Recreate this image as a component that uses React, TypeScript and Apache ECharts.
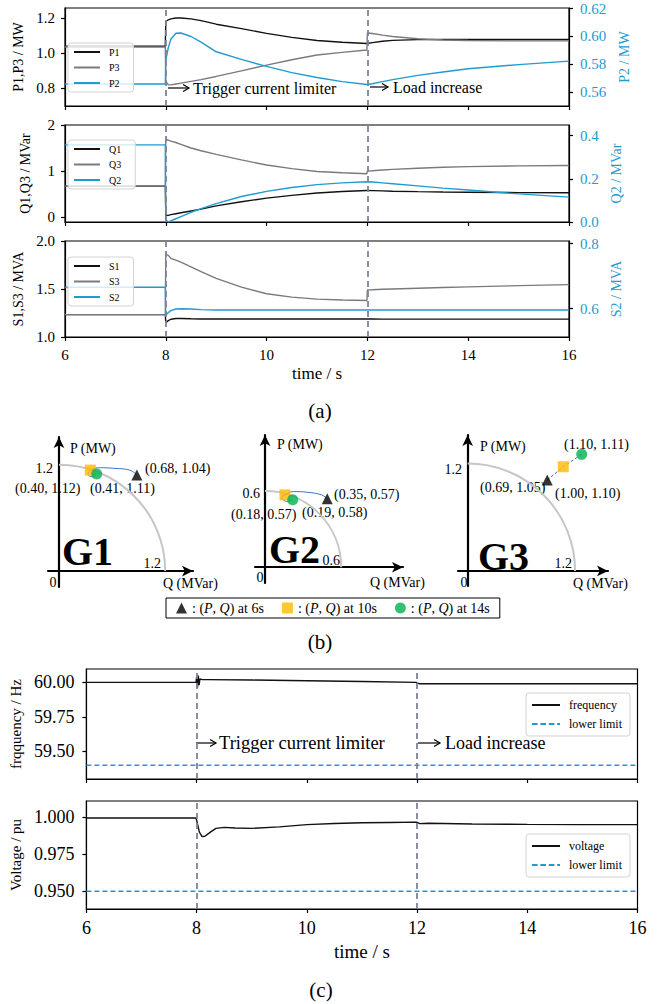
import React, { useEffect, useRef } from "react";
import * as echarts from "echarts";

// ---------- data: panel (a) ----------
const timeA = [6, 7.99, 8.0, 8.05, 8.1, 8.2, 8.3, 8.5, 8.7, 9, 9.5, 10, 10.5, 11, 11.5, 11.99, 12.0, 12.1, 12.3, 12.5, 13, 13.5, 14, 15, 16];
const P1 = [1.04, 1.04, 1.18, 1.19, 1.195, 1.2, 1.2, 1.195, 1.185, 1.165, 1.14, 1.113, 1.09, 1.072, 1.062, 1.055, 1.055, 1.06, 1.068, 1.073, 1.077, 1.078, 1.078, 1.078, 1.078];
const P3 = [1.035, 1.035, 0.84, 0.82, 0.82, 0.825, 0.83, 0.84, 0.85, 0.868, 0.9, 0.932, 0.963, 0.99, 1.005, 1.018, 1.115, 1.112, 1.103, 1.095, 1.082, 1.075, 1.072, 1.07, 1.07];
const P2 = [0.5658, 0.5658, 0.583, 0.592, 0.598, 0.6023, 0.6025, 0.6, 0.596, 0.589, 0.5835, 0.5785, 0.574, 0.5705, 0.5675, 0.5655, 0.5652, 0.566, 0.5675, 0.569, 0.572, 0.5745, 0.5768, 0.5798, 0.5823];
const Q1 = [0.67, 0.67, 0.03, 0.035, 0.05, 0.07, 0.09, 0.13, 0.17, 0.24, 0.33, 0.41, 0.47, 0.52, 0.555, 0.575, 0.575, 0.572, 0.566, 0.56, 0.55, 0.543, 0.538, 0.53, 0.525];
const Q3 = [0.67, 0.67, 1.69, 1.67, 1.65, 1.62, 1.58, 1.5, 1.44, 1.36, 1.24, 1.13, 1.05, 0.99, 0.96, 0.94, 1.0, 1.005, 1.02, 1.035, 1.06, 1.08, 1.095, 1.11, 1.12];
const Q2 = [0.357, 0.357, 0.01, 0.0, 0.005, 0.015, 0.025, 0.045, 0.062, 0.085, 0.118, 0.142, 0.16, 0.173, 0.181, 0.186, 0.186, 0.185, 0.181, 0.177, 0.167, 0.157, 0.148, 0.13, 0.115];
const S1 = [1.233, 1.233, 1.15, 1.17, 1.185, 1.192, 1.193, 1.19, 1.188, 1.187, 1.187, 1.187, 1.187, 1.187, 1.187, 1.187, 1.187, 1.187, 1.186, 1.186, 1.186, 1.186, 1.186, 1.186, 1.186];
const S3 = [1.233, 1.233, 1.86, 1.85, 1.82, 1.8, 1.78, 1.73, 1.68, 1.61, 1.52, 1.45, 1.415, 1.395, 1.385, 1.38, 1.49, 1.492, 1.497, 1.5, 1.508, 1.515, 1.522, 1.535, 1.546];
const S2 = [0.666, 0.666, 0.58, 0.588, 0.594, 0.599, 0.6, 0.599, 0.597, 0.596, 0.596, 0.596, 0.596, 0.596, 0.596, 0.596, 0.596, 0.596, 0.596, 0.596, 0.596, 0.596, 0.596, 0.596, 0.596];
const eventTimes = [8, 12];

// ---------- data: panel (b) ----------
const capacity = [1.2, 0.6, 1.2];
const triQ = [0.88, 0.49, 0.889];
const triP = [1.085, 0.538, 1.013];
const sqQ = [0.354, 0.157, 1.068];
const sqP = [1.14, 0.569, 1.162];
const cirQ = [0.426, 0.218, 1.274];
const cirP = [1.096, 0.53, 1.3];
const traj1Q = [0.88, 0.8, 0.62, 0.46, 0.354, 0.33, 0.38, 0.426];
const traj1P = [1.085, 1.14, 1.16, 1.167, 1.14, 1.09, 1.065, 1.096];
const traj2Q = [0.49, 0.446, 0.33, 0.223, 0.157, 0.131, 0.171, 0.218];
const traj2P = [0.538, 0.569, 0.59, 0.595, 0.569, 0.551, 0.517, 0.53];
const traj3Q = [0.889, 1.068, 1.274];
const traj3P = [1.013, 1.162, 1.3];
const labels6s = ["(0.68, 1.04)", "(0.35, 0.57)", "(0.69, 1.05)"];
const labels10s = ["(0.40, 1.12)", "(0.18, 0.57)", "(1.00, 1.10)"];
const labels14s = ["(0.41, 1.11)", "(0.19, 0.58)", "(1.10, 1.11)"];

// ---------- data: panel (c) ----------
const timeF = [6, 7.99, 8.0, 8.015, 8.03, 8.045, 8.06, 8.1, 8.2, 9, 10, 11, 11.99, 12.0, 12.05, 12.5, 14, 16];
const freq = [60.0, 60.0, 60.04, 59.96, 60.05, 59.98, 60.025, 60.02, 60.02, 60.017, 60.012, 60.006, 60.0, 59.995, 59.99, 59.99, 59.99, 59.99];
const timeV = [6, 7.99, 8.0, 8.05, 8.1, 8.15, 8.25, 8.35, 8.5, 8.7, 9, 9.5, 10, 10.5, 11, 11.5, 11.99, 12.05, 12.2, 13, 14, 15, 16];
const volt = [0.9995, 0.9995, 0.998, 0.99, 0.987, 0.9872, 0.99, 0.9925, 0.9932, 0.9928, 0.9925, 0.9935, 0.995, 0.9958, 0.9963, 0.9965, 0.9967, 0.9957, 0.996, 0.9955, 0.9952, 0.995, 0.995];
const freqLimit = 59.4;
const voltLimit = 0.95;

// ---------- styles ----------
const FONT = "Liberation Serif";
const BLACK = "#111111";
const GRAY = "#787a82";
const BLUE = "#1f9bd1";
const DASH = "#7d8398";
const ORANGE = "#ffb900";
const GREEN = "#00b050";
const TRAJ = "#3f72cc";
const DASHED_ICON = "path://M0,0h6v2h-6z M9,0h6v2h-6z M18,0h6v2h-6z M27,0h3v2h-3z";

const pairs = (t: number[], v: number[]) => t.map((x, i) => [x, v[i]]);

function timeAxis(grid: number, showLabels: boolean, fontSize: number, nameGap: number, nameSize: number) {
  return {
    type: "value", gridIndex: grid, min: 6, max: 16, interval: 2,
    axisLine: { show: true, onZero: false, lineStyle: { color: "#000", width: 1.2 } },
    axisTick: { show: true, length: 4, lineStyle: { color: "#000", width: 1.2 } },
    axisLabel: { show: showLabels, fontFamily: FONT, fontSize, color: "#000", margin: 10 },
    splitLine: { show: false },
    name: showLabels ? "time / s" : "",
    nameLocation: "middle", nameGap,
    nameTextStyle: { fontFamily: FONT, fontSize: nameSize, color: "#000", fontWeight: "normal" },
  };
}

function valAxis(grid: number, pos: string, min: number, max: number, ticks: number[], digits: number,
  color: string, name: string, nameGap: number, fontSize: number, nameSize: number, margin: number) {
  return {
    type: "value", gridIndex: grid, position: pos, min, max,
    axisLine: { show: true, onZero: false, lineStyle: { color: "#000", width: 1.2 } },
    axisTick: { show: true, length: 4, customValues: ticks, lineStyle: { color: "#000", width: 1.2 } },
    axisLabel: { show: true, customValues: ticks, formatter: (v: number) => v.toFixed(digits), fontFamily: FONT, fontSize, color, margin },
    splitLine: { show: false },
    name, nameLocation: "middle", nameGap, nameRotate: 90,
    nameTextStyle: { fontFamily: FONT, fontSize: nameSize, color },
  };
}

function pqAxis(grid: number, min: number, max: number) {
  return {
    type: "value", gridIndex: grid, min, max,
    axisLine: { show: true, onZero: true, symbol: ["none", "arrow"], symbolSize: [8, 11], lineStyle: { color: "#000", width: 2.2 } },
    axisTick: { show: false }, axisLabel: { show: false }, splitLine: { show: false },
  };
}

function line(name: string, xi: number, yi: number, t: number[], v: number[], color: string, width: number, extra: any = {}) {
  return {
    type: "line", name, xAxisIndex: xi, yAxisIndex: yi, data: pairs(t, v), symbol: "none",
    lineStyle: { color, width }, itemStyle: { color }, z: 3, ...extra,
  };
}

const vlines = {
  silent: true, symbol: ["none", "none"], label: { show: false },
  lineStyle: { color: DASH, type: [6, 4], width: 1.8 },
  data: eventTimes.map((t) => ({ xAxis: t })),
};

function txt(x: number, y: number, text: string, size: number, align = "left", extra: any = {}) {
  return {
    type: "text", x, y, silent: true,
    style: { text, fontFamily: FONT, fontSize: size, fill: "#000", align, verticalAlign: "middle", ...extra },
  };
}

function arrow(x: number, y: number, len: number) {
  return [
    { type: "line", silent: true, shape: { x1: x, y1: y, x2: x + len, y2: y }, style: { stroke: "#000", lineWidth: 1.2 } },
    { type: "polyline", silent: true, shape: { points: [[x + len - 6, y - 3.5], [x + len, y], [x + len - 6, y + 3.5]] }, style: { stroke: "#000", lineWidth: 1.2, fill: null } },
  ];
}

function lineLegend(top: number, left: number, names: any[], fontSize: number, itemWidth: number, gap: number, pad: number[]) {
  return {
    orient: "vertical", left, top, data: names, itemWidth, itemHeight: 2, itemGap: gap, icon: "rect",
    padding: pad, backgroundColor: "rgba(255,255,255,0.8)", borderColor: "#d3d3d3", borderWidth: 1, borderRadius: 3,
    textStyle: { fontFamily: FONT, fontSize, color: "#000", padding: [0, 0, 0, 4] }, selectedMode: false,
  };
}

function arcSeries(g: number) {
  return {
    type: "custom", xAxisIndex: 3 + g, yAxisIndex: 6 + g, silent: true, z: 1,
    data: [[capacity[g], 0]],
    renderItem: (_p: any, api: any) => {
      const c = api.coord([0, 0]);
      const e = api.coord([api.value(0), 0]);
      const r = e[0] - c[0];
      return {
        type: "arc",
        shape: { cx: c[0], cy: c[1], r, startAngle: -Math.PI / 2, endAngle: 0, clockwise: true },
        style: { stroke: "#c6c6c6", lineWidth: 2, fill: null },
      };
    },
  };
}

function scatter(name: string, g: number, q: number, p: number, symbol: string, color: string) {
  return {
    type: "scatter", name, xAxisIndex: 3 + g, yAxisIndex: 6 + g, data: [[q, p]], symbol, symbolSize: 11,
    itemStyle: { color }, z: 5,
  };
}

function buildOption() {
  const trajQ = [traj1Q, traj2Q, traj3Q];
  const trajP = [traj1P, traj2P, traj3P];
  const series: any[] = [
    line("P1", 0, 0, timeA, P1, BLACK, 1.4, { markLine: vlines }),
    line("P3", 0, 0, timeA, P3, GRAY, 1.4),
    line("P2", 0, 1, timeA, P2, BLUE, 1.4),
    line("Q1", 1, 2, timeA, Q1, BLACK, 1.4, { markLine: vlines }),
    line("Q3", 1, 2, timeA, Q3, GRAY, 1.4),
    line("Q2", 1, 3, timeA, Q2, BLUE, 1.4),
    line("S1", 2, 4, timeA, S1, BLACK, 1.4, { markLine: vlines }),
    line("S3", 2, 4, timeA, S3, GRAY, 1.4),
    line("S2", 2, 5, timeA, S2, BLUE, 1.4),
    line("frequency", 6, 9, timeF, freq, BLACK, 1.4, { markLine: vlines }),
    line("lower limit", 6, 9, [6, 16], [freqLimit, freqLimit], BLUE, 1.6, { lineStyle: { color: BLUE, width: 1.6, type: [5, 3] } }),
    line("voltage", 7, 10, timeV, volt, BLACK, 1.4, { markLine: vlines }),
    line("lower limit", 7, 10, [6, 16], [voltLimit, voltLimit], BLUE, 1.6, { lineStyle: { color: BLUE, width: 1.6, type: [5, 3] } }),
  ];
  for (let g = 0; g < 3; g++) {
    series.push(arcSeries(g));
    series.push({
      type: "line", name: "traj" + g, xAxisIndex: 3 + g, yAxisIndex: 6 + g, data: pairs(trajQ[g], trajP[g]),
      symbol: "none", smooth: g < 2 ? 0.4 : false, z: 4,
      lineStyle: { color: TRAJ, width: 1, type: g < 2 ? "solid" : [3, 2] },
    });
    series.push(scatter("6s", g, triQ[g], triP[g], "triangle", "#000"));
    series.push(scatter("10s", g, sqQ[g], sqP[g], "rect", ORANGE));
    series.push(scatter("14s", g, cirQ[g], cirP[g], "circle", GREEN));
  }

  const graphic: any[] = [
    // panel (a) annotations
    ...arrow(168, 88, 21), txt(193, 88, "Trigger current limiter", 16),
    ...arrow(370, 87, 18), txt(393, 87, "Load increase", 16),
    txt(320, 411, "(a)", 21, "center"),
    // G1
    txt(70, 448, "P (MW)", 14), txt(53, 468, "1.2", 14, "right"), txt(161, 563, "1.2", 14, "right"),
    txt(53, 582, "0", 14, "center"), txt(163, 583, "Q (MVar)", 14),
    txt(145, 468, labels6s[0], 14), txt(15, 488, labels10s[0], 14), txt(90, 488, labels14s[0], 14),
    txt(62, 551, "G1", 40, "left", { fontWeight: "bold" }),
    // G2
    txt(277, 444, "P (MW)", 14), txt(260, 493, "0.6", 14, "right"), txt(340, 560, "0.6", 14, "right"),
    txt(260, 577, "0", 14, "center"), txt(370, 582, "Q (MVar)", 14),
    txt(334, 494, labels6s[1], 14), txt(231, 514, labels10s[1], 14), txt(302, 512, labels14s[1], 14),
    txt(269, 549, "G2", 40, "left", { fontWeight: "bold" }),
    // G3
    txt(480, 446, "P (MW)", 14), txt(462, 469, "1.2", 14, "right"), txt(572, 563, "1.2", 14, "right"),
    txt(464, 582, "0", 14, "center"), txt(573, 583, "Q (MVar)", 14),
    txt(480, 487, labels6s[2], 14), txt(555, 493, labels10s[2], 14), txt(564, 444, labels14s[2], 14),
    txt(478, 556, "G3", 40, "left", { fontWeight: "bold" }),
    txt(320, 642, "(b)", 21, "center"),
    // panel (c)
    ...arrow(196, 743, 20), txt(219, 743, "Trigger current limiter", 18.5),
    ...arrow(418, 743, 22), txt(445, 743, "Load increase", 18),
    txt(321, 990, "(c)", 21, "center"),
  ];

  return {
    animation: false,
    backgroundColor: "#fff",
    textStyle: { fontFamily: FONT },
    grid: [
      { left: 65, top: 8, width: 504, height: 98, show: true, borderColor: "#000", borderWidth: 1.2, backgroundColor: "transparent" },
      { left: 65, top: 125, width: 504, height: 97, show: true, borderColor: "#000", borderWidth: 1.2, backgroundColor: "transparent" },
      { left: 65, top: 241, width: 504, height: 96, show: true, borderColor: "#000", borderWidth: 1.2, backgroundColor: "transparent" },
      { left: 48, top: 437, width: 145, height: 150 },
      { left: 255, top: 435, width: 148, height: 148 },
      { left: 458, top: 435, width: 150, height: 151 },
      { left: 83.5, top: 669, width: 554, height: 110, show: true, borderColor: "#000", borderWidth: 1.2, backgroundColor: "transparent" },
      { left: 83.5, top: 801, width: 554, height: 108, show: true, borderColor: "#000", borderWidth: 1.2, backgroundColor: "transparent" },
    ],
    xAxis: [
      timeAxis(0, false, 15, 28, 17),
      timeAxis(1, false, 15, 28, 17),
      timeAxis(2, true, 15, 28, 17),
      pqAxis(3, -0.124, 1.514),
      pqAxis(4, -0.079, 1.087),
      pqAxis(5, -0.108, 1.568),
      timeAxis(6, false, 18, 33, 19),
      timeAxis(7, true, 18, 33, 19),
    ],
    yAxis: [
      valAxis(0, "left", 0.7, 1.257, [0.8, 1.0, 1.2], 1, "#000", "P1,P3 / MW", 33, 15, 14, 10),
      valAxis(0, "right", 0.55, 0.6205, [0.56, 0.58, 0.6, 0.62], 2, BLUE, "P2 / MW", 40, 15, 14, 11),
      valAxis(1, "left", -0.11, 2.0, [0, 1, 2], 0, "#000", "Q1,Q3 / MVar", 33, 15, 14, 10),
      valAxis(1, "right", 0, 0.449, [0, 0.2, 0.4], 1, BLUE, "Q2 / MVar", 40, 15, 14, 11),
      valAxis(2, "left", 1.0, 2.0, [1.0, 1.5, 2.0], 1, "#000", "S1,S3 / MVA", 33, 15, 14, 10),
      valAxis(2, "right", 0.513, 0.808, [0.6, 0.8], 1, BLUE, "S2 / MVA", 40, 15, 14, 11),
      pqAxis(3, -0.18, 1.514),
      pqAxis(4, -0.124, 1.04),
      pqAxis(5, -0.168, 1.516),
      valAxis(6, "left", 59.3, 60.097, [59.5, 59.75, 60.0], 2, "#000", "frqquency / Hz", 57, 18, 15, 12),
      valAxis(7, "left", 0.938, 1.011, [0.95, 0.975, 1.0], 3, "#000", "Voltage / pu", 57, 18, 15, 12),
    ],
    legend: [
      lineLegend(43, 68, ["P1", "P3", "P2"], 10, 26, 5.5, [4, 14, 4, 6]),
      lineLegend(140, 68, ["Q1", "Q3", "Q2"], 10, 26, 5.5, [4, 14, 4, 6]),
      lineLegend(257, 68, ["S1", "S3", "S2"], 10, 26, 5.5, [4, 14, 4, 6]),
      {
        orient: "horizontal", left: 166, top: 598, data: ["6s", "10s", "14s"], itemWidth: 11, itemHeight: 11, itemGap: 18,
        padding: [3, 10, 3, 10], backgroundColor: "#fff", borderColor: "#000", borderWidth: 1, borderRadius: 0, selectedMode: false,
        formatter: (name: string) => ": ({i|P}, {i|Q}) at " + name,
        textStyle: { fontFamily: FONT, fontSize: 14, color: "#000", rich: { i: { fontFamily: FONT, fontSize: 14, fontStyle: "italic", color: "#000" } } },
      },
      lineLegend(693, 526, ["frequency", { name: "lower limit", icon: DASHED_ICON }], 12, 28, 7, [6, 8, 6, 6]),
      lineLegend(834, 526, ["voltage", { name: "lower limit", icon: DASHED_ICON }], 12, 28, 7, [6, 8, 6, 6]),
    ],
    series,
    graphic,
  };
}

export default function App() {
  const ref = useRef<HTMLDivElement>(null);
  useEffect(() => {
    const chart = echarts.init(ref.current as HTMLDivElement, undefined, { renderer: "svg" });
    chart.setOption(buildOption() as any);
    return () => chart.dispose();
  }, []);
  return <div ref={ref} style={{ position: "fixed", left: 0, top: 0, width: 659, height: 1004, background: "#fff" }} />;
}
